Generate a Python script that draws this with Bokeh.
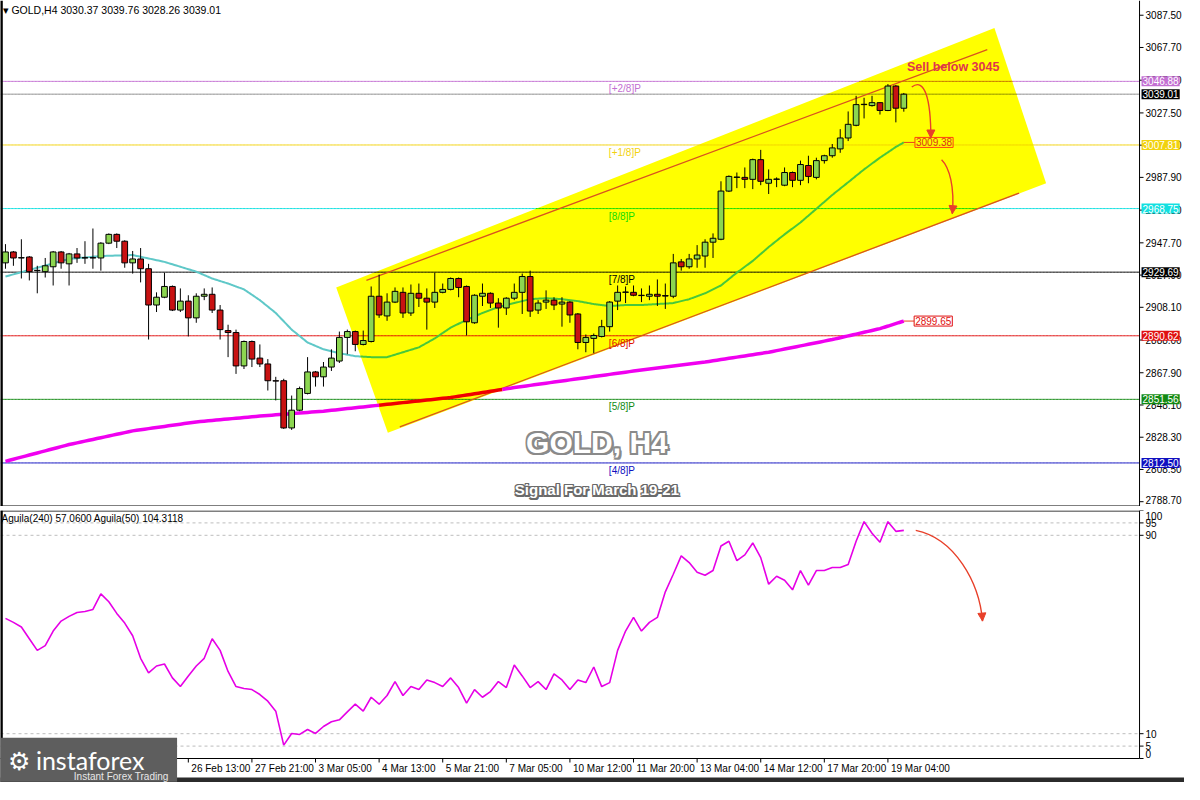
import numpy as np
from bokeh.plotting import figure
from bokeh.models import Range1d, Label, Arrow, NormalHead
from bokeh.layouts import column
from bokeh.embed import file_html
from bokeh.resources import INLINE
from bokeh.core.properties import value

FONT = "Liberation Sans"

# ---------------- data ----------------
opens = [2935.4, 2942.1, 2938.4, 2939.0, 2930.6, 2930.0, 2933.0, 2942.1, 2934.8, 2940.9,
         2938.4, 2938.6, 2938.4, 2947.5, 2952.9, 2948.7, 2935.4, 2937.8, 2931.8, 2909.5,
         2914.3, 2920.9, 2906.4, 2911.9, 2901.6, 2914.9, 2916.1, 2906.4, 2893.8, 2892.6,
         2872.1, 2887.1, 2876.9, 2873.3, 2863.0, 2863.0, 2834.0, 2844.9, 2855.2, 2868.4,
         2865.4, 2871.4, 2875.1, 2889.6, 2893.2, 2885.3, 2887.1, 2914.9, 2902.8, 2911.3,
         2917.3, 2904.6, 2916.7, 2913.7, 2911.3, 2917.3, 2919.1, 2925.8, 2920.9, 2898.6,
         2914.9, 2916.7, 2910.7, 2907.7, 2913.7, 2917.3, 2927.0, 2906.4, 2911.3, 2912.5,
         2910.1, 2911.3, 2904.0, 2886.5, 2889.0, 2890.2, 2896.2, 2911.9, 2917.3, 2917.3,
         2915.5, 2914.9, 2916.1, 2915.3, 2914.9, 2936.0, 2933.0, 2937.8, 2939.6, 2948.1,
         2949.9, 2979.5, 2987.9, 2987.9, 2986.7, 2998.8, 2984.3, 2986.7, 2983.1, 2990.9,
         2986.1, 2995.2, 2987.9, 2998.2, 3001.2, 3005.4, 3012.1, 3019.9, 3032.6, 3032.0,
         3033.8, 3029.0, 3044.0, 3030.37]
highs = [2946.9, 2942.7, 2949.9, 2939.6, 2933.6, 2938.4, 2942.7, 2942.7, 2941.5, 2944.5,
         2948.7, 2956.5, 2948.1, 2953.5, 2953.5, 2949.3, 2942.7, 2944.5, 2934.8, 2917.3,
         2929.4, 2921.5, 2919.7, 2915.5, 2916.7, 2919.7, 2920.3, 2909.5, 2897.4, 2894.4,
         2887.7, 2887.7, 2885.3, 2876.3, 2865.4, 2864.2, 2853.9, 2859.4, 2877.5, 2869.0,
         2874.5, 2882.3, 2893.2, 2894.4, 2893.8, 2893.8, 2920.9, 2928.2, 2916.7, 2920.3,
         2920.3, 2922.1, 2922.7, 2919.7, 2929.4, 2922.7, 2926.4, 2926.4, 2921.5, 2916.1,
         2922.7, 2917.3, 2913.7, 2914.3, 2922.7, 2928.8, 2930.6, 2912.5, 2918.5, 2914.3,
         2914.3, 2911.9, 2904.6, 2891.4, 2892.0, 2900.4, 2911.9, 2921.5, 2920.9, 2921.5,
         2919.7, 2921.5, 2925.2, 2922.7, 2940.9, 2937.8, 2940.9, 2946.3, 2949.9, 2953.5,
         2985.5, 2989.1, 2990.9, 2994.0, 2999.4, 3004.8, 2992.8, 2987.9, 2994.0, 2991.5,
         2998.2, 3001.2, 3000.0, 3001.8, 3008.4, 3017.5, 3028.4, 3038.0, 3036.8, 3038.0,
         3034.0, 3045.2, 3044.6, 3039.76]
lows = [2931.8, 2933.6, 2925.8, 2924.6, 2916.7, 2926.4, 2921.5, 2931.8, 2921.5, 2935.4,
        2934.8, 2931.8, 2930.6, 2946.9, 2944.5, 2932.4, 2928.8, 2923.4, 2888.3, 2905.2,
        2913.7, 2905.8, 2905.2, 2890.2, 2898.6, 2912.5, 2904.6, 2888.3, 2877.5, 2867.2,
        2870.2, 2871.4, 2871.4, 2857.0, 2850.9, 2833.4, 2832.8, 2844.3, 2854.6, 2859.4,
        2859.4, 2869.0, 2873.9, 2879.3, 2881.1, 2884.7, 2886.5, 2901.6, 2899.8, 2910.7,
        2901.6, 2902.8, 2908.3, 2894.4, 2907.7, 2916.7, 2918.5, 2914.3, 2890.8, 2898.0,
        2908.9, 2907.7, 2895.6, 2903.4, 2912.5, 2904.0, 2902.2, 2904.0, 2907.1, 2906.4,
        2896.2, 2898.6, 2882.3, 2880.5, 2879.9, 2889.6, 2893.2, 2906.4, 2910.7, 2914.9,
        2911.3, 2912.5, 2908.9, 2907.1, 2913.7, 2930.6, 2931.8, 2932.4, 2932.4, 2938.4,
        2949.3, 2978.9, 2981.3, 2981.3, 2980.7, 2983.1, 2977.7, 2981.9, 2982.5, 2981.9,
        2983.1, 2984.3, 2986.7, 2996.4, 3000.0, 3003.0, 3010.2, 3019.3, 3024.1, 3031.4,
        3026.5, 3028.6, 3021.7, 3028.26]
closes = [2942.1, 2938.4, 2938.6, 2930.0, 2930.8, 2933.6, 2942.1, 2935.4, 2940.9, 2938.4,
          2938.6, 2938.4, 2947.5, 2952.9, 2948.7, 2935.4, 2937.8, 2931.8, 2909.5, 2914.3,
          2920.9, 2906.4, 2911.9, 2901.6, 2914.9, 2916.1, 2906.4, 2894.4, 2892.6, 2872.1,
          2887.1, 2876.3, 2873.3, 2863.0, 2862.8, 2834.0, 2844.9, 2858.2, 2868.4, 2865.4,
          2871.4, 2876.9, 2889.6, 2893.2, 2885.3, 2887.7, 2914.9, 2903.4, 2911.3, 2917.9,
          2904.6, 2916.7, 2913.7, 2911.3, 2917.3, 2919.1, 2925.8, 2920.3, 2899.2, 2915.5,
          2916.7, 2910.7, 2907.7, 2913.7, 2917.3, 2927.0, 2905.8, 2910.7, 2912.5, 2909.5,
          2911.3, 2903.4, 2886.5, 2889.6, 2890.8, 2896.2, 2911.3, 2917.3, 2917.5, 2915.5,
          2915.3, 2916.1, 2914.9, 2915.0, 2935.4, 2933.0, 2937.8, 2940.2, 2948.1, 2950.5,
          2979.5, 2988.5, 2988.1, 2986.7, 2998.8, 2985.5, 2986.7, 2986.9, 2990.9, 2986.1,
          2995.8, 2988.5, 2998.2, 3001.2, 3006.0, 3012.1, 3020.5, 3032.6, 3032.8, 3033.8,
          3029.0, 3044.0, 3030.4, 3039.01]

# moving averages (candle index, value)
ma21_idx = [0, 4, 8, 12, 16, 20, 24] + list(range(26, 113, 2)) + [113]
ma21 = [2927.0, 2932.4, 2937.8, 2939.6, 2940.2, 2936.0, 2930.0, 2925.8, 2922.7, 2919.1,
        2912.5, 2904.6, 2894.4, 2886.5, 2882.3, 2879.9, 2878.1, 2877.5, 2877.5, 2880.5,
        2883.5, 2889.0, 2895.6, 2900.4, 2904.6, 2908.3, 2910.7, 2913.1, 2913.7, 2913.1,
        2911.9, 2910.1, 2908.9, 2909.5, 2909.5, 2910.1, 2910.7, 2913.1, 2916.7, 2921.5,
        2929.4, 2936.6, 2945.1, 2952.9, 2960.2, 2968.6, 2977.1, 2984.9, 2992.8, 3000.0,
        3006.6, 3009.38]
ma200_idx = [0, 8, 16, 24, 32, 40, 48, 56, 64, 72, 80, 88, 96, 104, 110, 113]
ma200 = [2813.5, 2823.8, 2832.2, 2837.7, 2841.3, 2844.3, 2848.5, 2852.7, 2858.8, 2864.2,
         2869.6, 2874.5, 2880.5, 2888.3, 2895.0, 2899.65]

# oscillator (lower pane)
aguila = [56.5, 54.9, 53.0, 48.3, 43.6, 45.5, 51.4, 55.4, 57.3, 58.9,
          59.3, 60.1, 66.4, 63.2, 58.5, 54.6, 49.5, 40.4, 34.5, 37.3,
          38.1, 32.5, 29.0, 33.3, 37.3, 40.4, 48.3, 43.6, 35.1, 29.0,
          28.2, 27.8, 25.8, 23.1, 19.1, 5.4, 10.1, 9.7, 11.7, 10.1,
          12.9, 14.8, 15.6, 18.8, 21.9, 19.1, 24.7, 21.9, 25.4, 31.0,
          25.4, 29.0, 27.8, 31.7, 30.6, 29.0, 32.5, 28.6, 22.3, 27.8,
          24.7, 27.0, 31.0, 28.6, 37.7, 33.3, 28.6, 31.0, 27.8, 34.1,
          31.7, 27.8, 31.7, 30.6, 36.9, 29.0, 30.6, 43.6, 51.4, 56.9,
          51.4, 54.9, 56.9, 67.2, 74.3, 81.7, 79.0, 75.1, 73.9, 75.8,
          85.7, 87.6, 79.8, 82.1, 86.9, 81.0, 70.3, 73.5, 71.9, 68.0,
          75.8, 69.9, 75.8, 75.8, 77.0, 77.0, 78.2, 87.6, 95.5, 90.8,
          87.2, 95.5, 91.6, 92.0]

# Murrey math levels
levels = [3046.88, 3039.01, 3007.81, 2968.75, 2929.69, 2890.62, 2851.56, 2812.50]
level_tags = ["[+2/8]P", "", "[+1/8]P", "[8/8]P", "[7/8]P", "[6/8]P", "[5/8]P", "[4/8]P"]

# time axis labels (candle index where a label starts; earlier ones sit under the logo)
time_tick_idx = [23, 31, 39, 47, 55, 63, 71, 79, 87, 95, 103, 111]
time_tick_labels = ["26 Feb 13:00", "27 Feb 21:00", "3 Mar 05:00",
                    "4 Mar 13:00", "5 Mar 21:00", "7 Mar 05:00", "10 Mar 12:00", "11 Mar 20:00",
                    "13 Mar 04:00", "14 Mar 12:00", "17 Mar 20:00", "19 Mar 04:00"]
price_ticks = [2788.7, 2808.5, 2828.3, 2848.1, 2867.9, 2888.0, 2908.1, 2927.9, 2947.7,
               2967.8, 2987.9, 3007.7, 3027.5, 3047.6, 3067.7, 3087.5]
osc_ticks = [0, 5, 10, 90, 95, 100]
osc_dashed = [5, 10, 90, 95]

# drawn objects (channel rectangle, channel lines, arrows) in (candle index, price)
channel_box_x = [41.6, 124.4, 130.9, 48.1]
channel_box_y = [2920.3, 3079.6, 2984.3, 2831.0]
upper_line_x = [45.4, 123.5]
upper_line_y = [2924.6, 3066.4]
lower_line_x = [49.6, 127.5]
lower_line_y = [2834.6, 2978.3]
arrow1_x = [114.0, 115.6, 116.4, 116.4]
arrow1_y = [3043.4, 3049.5, 3036.2, 3012.1]
arrow2_x = [117.75, 118.75, 119.4, 119.1]
arrow2_y = [2998.8, 2994.0, 2981.9, 2965.6]
arrow3_x = [114.5, 119.4, 122.5, 122.9]
arrow3_y = [92.0, 88.8, 71.1, 55.4]

# ---------------- styles ----------------
level_colors = ["#C36FD2", "#8C8C8C", "#F2D20E", "#12E0E0", "#000000", "#E01010", "#138A13", "#1010C0"]
level_box_colors = ["#C36FD2", "#000000", "#F2D20E", "#12E0E0", "#000000", "#E01010", "#138A13", "#1010C0"]

PXC = 7.95                      # pixels per candle
X0 = -0.625                     # left edge of the plotting area
X1 = 142.65                     # price-scale line (right edge of chart area)
XE = X0 + 1184 / PXC            # right edge of the figure
P_LO, P_HI = 2785.75, 3096.55   # price range of upper pane (506 px)
P_PX = 506 / (P_HI - P_LO)
O_LO, O_HI = -9.677, 100.0      # lower pane range (incl. time-scale strip)
O_PX = 272 / (O_HI - O_LO)


def blend(c):
    # colour seen through the yellow rectangle: blue channel removed
    c = c.lstrip("#")
    return "#%s%s00" % (c[0:2], c[2:4])


def inside(px, py, vx, vy):
    px = np.asarray(px, float)
    py = np.asarray(py, float)
    res = np.zeros(px.shape, bool)
    n = len(vx)
    j = n - 1
    for i in range(n):
        xi, yi, xj, yj = vx[i], vy[i], vx[j], vy[j]
        cond = ((yi > py) != (yj > py)) & (px < (xj - xi) * (py - yi) / (yj - yi) + xi)
        res ^= cond
        j = i
    return res


def colored_line(p, xs, ys, col_out, col_in, width, n_sub=16):
    xs = np.asarray(xs, float)
    ys = np.asarray(ys, float)
    dx, dy = [], []
    t = np.linspace(0, 1, n_sub, endpoint=False)
    for k in range(len(xs) - 1):
        dx.extend(xs[k] + (xs[k + 1] - xs[k]) * t)
        dy.extend(ys[k] + (ys[k + 1] - ys[k]) * t)
    dx.append(xs[-1])
    dy.append(ys[-1])
    dx = np.array(dx)
    dy = np.array(dy)
    ins = inside((dx[:-1] + dx[1:]) / 2, (dy[:-1] + dy[1:]) / 2, channel_box_x, channel_box_y)
    rx, ry, cols = [], [], []
    s = 0
    for k in range(1, len(ins) + 1):
        if k == len(ins) or ins[k] != ins[s]:
            rx.append(list(dx[s:k + 1]))
            ry.append(list(dy[s:k + 1]))
            cols.append(col_in if ins[s] else col_out)
            s = k
    p.multi_line(rx, ry, line_color=cols, line_width=width)


def outlined_text(p, x, y, text, size, fill, stroke, r=1.6):
    offs = [(-r, 0), (r, 0), (0, -r), (0, r), (-r, -r), (r, r), (-r, r), (r, -r), (1.5 * r, 1.5 * r)]
    p.text(x=[x] * len(offs), y=[y] * len(offs), text=[text] * len(offs),
           x_offset=[o[0] for o in offs], y_offset=[o[1] for o in offs],
           text_color=stroke, text_font=value(FONT), text_font_style="bold",
           text_font_size=size, text_align="center", text_baseline="middle")
    p.text(x=[x], y=[y], text=[text], text_color=fill, text_font=value(FONT),
           text_font_style="bold", text_font_size=size, text_align="center", text_baseline="middle")


def curved_arrow(p, bx, by, color):
    p.bezier(x0=[bx[0]], y0=[by[0]], cx0=[bx[1]], cy0=[by[1]], cx1=[bx[2]], cy1=[by[2]],
             x1=[bx[3]], y1=[by[3]], line_color=color, line_width=1.4)
    sx = bx[3] - (bx[3] - bx[2]) * 0.15
    sy = by[3] - (by[3] - by[2]) * 0.15
    p.add_layout(Arrow(end=NormalHead(size=8, fill_color=color, line_color=color),
                       x_start=sx, y_start=sy, x_end=bx[3], y_end=by[3],
                       line_color=color, line_width=1.4))


def price_scale(p, ticks, labels, lo, hi, label_dy):
    # MetaTrader-style price scale on the right edge
    p.segment(x0=[X1], y0=[lo], x1=[X1], y1=[hi], line_color="black", line_width=1)
    p.segment(x0=[X1] * len(ticks), y0=ticks, x1=[X1 + 4 / PXC] * len(ticks), y1=ticks,
              line_color="black", line_width=1)
    p.text(x=[X1] * len(ticks), y=ticks, text=labels, x_offset=6, y_offset=label_dy,
           text_font=value(FONT), text_font_size="10px", text_color="black",
           text_align="left", text_baseline="middle")


# ---------------- figures ----------------
xr = Range1d(X0, XE)
idx = np.arange(len(opens))

p1 = figure(width=1184, height=506, x_range=xr, y_range=Range1d(P_LO, P_HI),
            x_axis_location=None, y_axis_location=None, toolbar_location=None,
            output_backend="svg", min_border_left=0, min_border_right=0,
            min_border_top=0, min_border_bottom=0, outline_line_color=None)
p1.grid.grid_line_color = None

# yellow channel rectangle
p1.patch(channel_box_x, channel_box_y, fill_color="#FFFF00", line_color=None)

# horizontal levels
for lv, col in zip(levels, level_colors):
    colored_line(p1, [X0, X1], [lv, lv], col, blend(col), 1, n_sub=800)

# level tags
for lv, tag, col in zip(levels, level_tags, level_colors):
    if not tag:
        continue
    tx, ty = 75.9, lv - 1.2
    c = blend(col) if inside([tx + 2], [ty - 3], channel_box_x, channel_box_y)[0] else col
    p1.add_layout(Label(x=tx, y=ty, text=tag, text_font=FONT, text_font_size="10px",
                        text_color=c, text_align="left", text_baseline="top"))

# channel lines
p1.line(upper_line_x, upper_line_y, line_color="#D9531E", line_width=1.3)
p1.line(lower_line_x, lower_line_y, line_color="#D9531E", line_width=1.3)

# moving averages
colored_line(p1, ma200_idx, ma200, "#F000F0", "#F00000", 3.5)
colored_line(p1, ma21_idx, ma21, "#5FC8C8", "#48C83A", 2)

# candles
o = np.array(opens)
c = np.array(closes)
up = c >= o
p1.segment(x0=idx, y0=lows, x1=idx, y1=highs, line_color="black", line_width=1)
p1.vbar(x=idx, width=0.72, top=np.maximum(o, c), bottom=np.minimum(o, c),
        fill_color=["#8CD650" if u else "#C81212" for u in up],
        line_color="black", line_width=1)

# MA value boxes
p1.segment(x0=[113, 113], y0=[ma21[-1], ma200[-1]], x1=[114.4, 114.3], y1=[ma21[-1], ma200[-1]],
           line_color="#E8401A", line_width=1)
p1.add_layout(Label(x=114.4, y=ma21[-1], text="%.2f" % ma21[-1], text_font=FONT,
                    text_font_size="10px", text_color="#D8341A", text_align="left",
                    text_baseline="middle", border_line_color="#FF4010", border_line_width=1,
                    background_fill_alpha=0, padding=1))
p1.add_layout(Label(x=114.3, y=ma200[-1], text="%.2f" % ma200[-1], text_font=FONT,
                    text_font_size="10px", text_color="#E01010", text_align="left",
                    text_baseline="middle", border_line_color="#E01010", border_line_width=1,
                    background_fill_color="white", padding=1))

# arrows
curved_arrow(p1, arrow1_x, arrow1_y, "#E8402A")
curved_arrow(p1, arrow2_x, arrow2_y, "#E8402A")

# texts
p1.add_layout(Label(x=113.4, y=3055.5, text="Sell below 3045", text_font=FONT,
                    text_font_size="12.5px", text_font_style="bold", text_color="#E0344E",
                    text_align="left", text_baseline="middle"))
outlined_text(p1, 74.4, 2825.0, "GOLD, H4", "30px", "white", "#8A8A8A")
outlined_text(p1, 74.4, 2796.0, "Signal For March 19-21", "15px", "white", "#6A6A6A", r=1.2)
p1.add_layout(Label(x=X0, y=3094.5, x_offset=2, text="\u25be GOLD,H4  3030.37 3039.76 3028.26 3039.01",
                    text_font=FONT, text_font_size="10.5px", text_color="black",
                    text_align="left", text_baseline="top"))

# pane borders
p1.segment(x0=[X0 + 0.1], y0=[P_LO], x1=[X0 + 0.1], y1=[P_HI], line_color="black", line_width=3)
p1.segment(x0=[X0], y0=[P_LO + 0.5 / P_PX], x1=[X1], y1=[P_LO + 0.5 / P_PX],
           line_color="black", line_width=1.2)

# price scale
price_scale(p1, price_ticks, ["%.2f" % t for t in price_ticks], P_LO, P_HI,
            [-2 if t == price_ticks[0] else 0 for t in price_ticks])

# price boxes on the scale
for lv, bc in zip(levels, level_box_colors):
    p1.add_layout(Label(x=X1, y=lv, x_offset=2, text="%.2f" % lv, text_font=FONT,
                        text_font_size="10px", text_color="white", text_align="left",
                        text_baseline="middle", background_fill_color=bc, padding=1))

# ---------------- lower pane ----------------
p2 = figure(width=1184, height=276, x_range=xr, y_range=Range1d(O_LO, O_HI),
            x_axis_location=None, y_axis_location=None, toolbar_location=None,
            output_backend="svg", min_border_left=0, min_border_right=0,
            min_border_top=4, min_border_bottom=0, outline_line_color=None)
p2.grid.grid_line_color = None

n_d = len(osc_dashed)
p2.segment(x0=[X0] * n_d, y0=osc_dashed, x1=[X1] * n_d, y1=osc_dashed,
           line_color="#BDBDBD", line_dash="3 3", line_width=1)

p2.line(idx, aguila, line_color="#E600E6", line_width=1.6)
curved_arrow(p2, arrow3_x, arrow3_y, "#E8402A")

# borders of the pane
p2.segment(x0=[X0, X0], y0=[O_HI - 0.5 / O_PX, 0], x1=[X1, X1], y1=[O_HI - 0.5 / O_PX, 0],
           line_color="black", line_width=1.2)
p2.segment(x0=[X0 + 0.1], y0=[O_LO], x1=[X0 + 0.1], y1=[O_HI], line_color="black", line_width=3)

price_scale(p2, osc_ticks, [str(t) for t in osc_ticks], 0, O_HI,
            [-5 if t == 0 else (5 if t == 100 else 0) for t in osc_ticks])

# time scale
n_t = len(time_tick_idx)
p2.segment(x0=time_tick_idx, y0=[0] * n_t, x1=time_tick_idx, y1=[-4 / O_PX] * n_t,
           line_color="black", line_width=1)
p2.text(x=time_tick_idx, y=[0] * n_t, text=time_tick_labels, x_offset=3, y_offset=4,
        text_font=value(FONT), text_font_size="10px", text_color="black",
        text_align="left", text_baseline="top")

# bottom window edge
p2.quad(left=[X0], right=[XE], bottom=[O_LO], top=[O_LO + 5 / O_PX], fill_color="#2B2B2B",
        line_color=None)

p2.add_layout(Label(x=X0, y=99.0, x_offset=1, text="Aguila(240) 57.0600   Aguila(50) 104.3118",
                    text_font=FONT, text_font_size="10px", text_color="black",
                    text_align="left", text_baseline="top"))

# logo
p2.add_layout(Label(x=X0, y=8.4, text="\u2699 instaforex    ", text_font="Lato",
                    text_font_size="25px", text_color="white", text_align="left",
                    text_baseline="top", background_fill_color="#5E5E5E", padding=7))
p2.add_layout(Label(x=8.6, y=-5.2, text="Instant Forex Trading", text_font=FONT,
                    text_font_size="10px", text_color="#E8E8E8", text_align="left",
                    text_baseline="top"))

layout = column(p1, p2, spacing=0)
open("out.html", "w").write(file_html(layout, INLINE))
